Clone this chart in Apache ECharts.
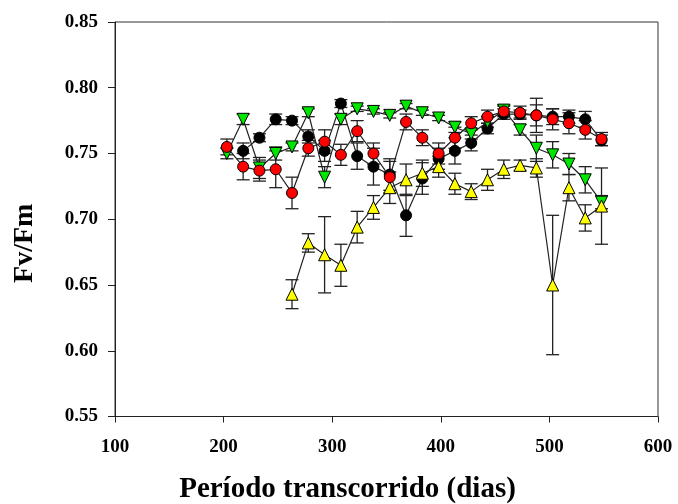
<!DOCTYPE html>
<html>
<head>
<meta charset="utf-8">
<script src="https://cdn.jsdelivr.net/npm/echarts@6/dist/echarts.min.js"></script>
<style>
  html, body { margin: 0; padding: 0; background: #fff; }
  #chart { width: 678px; height: 504px; }
</style>
</head>
<body>
<div id="chart"></div>
<script>
  // dias de medição
  var daysFull = [203, 218, 233, 248, 263, 278, 293, 308, 323, 338, 353, 368, 383, 398, 413, 428, 443, 458, 473, 488, 503, 518, 533, 548];
  var daysBlack = daysFull.slice(1);
  var daysYellow = daysFull.slice(4);

  // Fv/Fm médias
  var blackVals = [0.752, 0.762, 0.776, 0.775, 0.763, 0.752, 0.788, 0.748, 0.740, 0.734, 0.703, 0.731, 0.746, 0.752, 0.758, 0.769, 0.780, 0.780, 0.779, 0.778, 0.778, 0.776, 0.760];
  var redVals = [0.755, 0.740, 0.737, 0.738, 0.720, 0.754, 0.759, 0.749, 0.767, 0.750, 0.732, 0.774, 0.762, 0.750, 0.762, 0.773, 0.778, 0.782, 0.781, 0.779, 0.776, 0.773, 0.768, 0.761];
  var greenVals = [0.750, 0.776, 0.739, 0.750, 0.755, 0.781, 0.732, 0.776, 0.784, 0.782, 0.779, 0.786, 0.781, 0.777, 0.770, 0.765, 0.774, 0.783, 0.768, 0.754, 0.749, 0.742, 0.730, 0.713];
  var yellowVals = [0.643, 0.682, 0.673, 0.665, 0.694, 0.709, 0.724, 0.730, 0.735, 0.740, 0.727, 0.721, 0.730, 0.738, 0.741, 0.739, 0.650, 0.724, 0.701, 0.710];

  // erro padrão
  var blackErr = [0.006, 0.003, 0.004, 0.003, 0.005, 0.008, 0.003, 0.010, 0.014, 0.012, 0.016, 0.012, 0.008, 0.010, 0.006, 0.004, 0.004, 0.003, 0.008, 0.006, 0.005, 0.006, 0.004];
  var redErr = [0.006, 0.010, 0.008, 0.014, 0.012, 0.006, 0.009, 0.008, 0.008, 0.008, 0.012, 0.006, 0.006, 0.008, 0.008, 0.005, 0.005, 0.004, 0.005, 0.013, 0.008, 0.008, 0.007, 0.005];
  var greenErr = [0.004, 0.004, 0.008, 0.005, 0.003, 0.003, 0.008, 0.004, 0.002, 0.002, 0.002, 0.002, 0.002, 0.002, 0.004, 0.004, 0.004, 0.004, 0.004, 0.010, 0.010, 0.008, 0.010, 0.005];
  var yellowErr = [0.011, 0.007, 0.029, 0.016, 0.012, 0.009, 0.012, 0.012, 0.010, 0.008, 0.008, 0.006, 0.008, 0.007, 0.004, 0.007, 0.053, 0.010, 0.010, 0.029];

  var fontFam = 'Liberation Serif';

  function pairs(days, vals) {
    return days.map(function (d, i) { return [d, vals[i]]; });
  }

  function errorSeries(days, vals, errs, z) {
    return {
      type: 'custom',
      z: z,
      silent: true,
      data: days.map(function (d, i) { return [d, vals[i] - errs[i], vals[i] + errs[i]]; }),
      renderItem: function (params, api) {
        var lo = api.coord([api.value(0), api.value(1)]);
        var hi = api.coord([api.value(0), api.value(2)]);
        var w = 6.5;
        var st = { stroke: '#222', lineWidth: 1.3 };
        return {
          type: 'group',
          children: [
            { type: 'line', shape: { x1: lo[0], y1: lo[1], x2: hi[0], y2: hi[1] }, style: st },
            { type: 'line', shape: { x1: lo[0] - w, y1: lo[1], x2: lo[0] + w, y2: lo[1] }, style: st },
            { type: 'line', shape: { x1: hi[0] - w, y1: hi[1], x2: hi[0] + w, y2: hi[1] }, style: st }
          ]
        };
      }
    };
  }

  function lineSeries(name, days, vals, symbol, rotate, size, color, z) {
    return {
      name: name,
      type: 'line',
      z: z,
      data: pairs(days, vals),
      symbol: symbol,
      symbolRotate: rotate,
      symbolSize: size,
      showAllSymbol: true,
      lineStyle: { color: '#222', width: 1.2 },
      itemStyle: { color: color, borderColor: '#000', borderWidth: 1 },
      emphasis: { disabled: true },
      animation: false
    };
  }

  var chart = echarts.init(document.getElementById('chart'));
  var option = {
    animation: false,
    backgroundColor: '#fff',
    grid: {
      left: 115, right: 20, top: 22, bottom: 87.5,
      outerBoundsMode: 'none', containLabel: false,
      show: true, borderColor: '#333', borderWidth: 1
    },
    xAxis: {
      type: 'value',
      min: 100, max: 600, interval: 100,
      name: 'Período transcorrido (dias)',
      nameLocation: 'middle',
      nameGap: 59,
      nameTextStyle: { fontFamily: fontFam, fontWeight: 'bold', fontSize: 29, color: '#000', padding: [0, 78, 0, 0] },
      axisLine: { lineStyle: { color: '#222' } },
      axisTick: { inside: false, length: 6, lineStyle: { color: '#222' } },
      axisLabel: { fontFamily: fontFam, fontWeight: 'bold', fontSize: 19, color: '#000', margin: 21 },
      splitLine: { show: false }
    },
    yAxis: {
      type: 'value',
      min: 0.55, max: 0.85, interval: 0.05,
      name: 'Fv/Fm',
      nameLocation: 'middle',
      nameGap: 76,
      nameTextStyle: { fontFamily: fontFam, fontWeight: 'bold', fontSize: 28, color: '#000', padding: [0, 48, 0, 0] },
      axisLine: { lineStyle: { color: '#222' } },
      axisTick: { inside: false, length: 7, lineStyle: { color: '#222' } },
      axisLabel: {
        fontFamily: fontFam, fontWeight: 'bold', fontSize: 19, color: '#000', margin: 17,
        formatter: function (v) { return v.toFixed(2); }
      },
      splitLine: { show: false }
    },
    series: [
      errorSeries(daysBlack, blackVals, blackErr, 1),
      errorSeries(daysFull, greenVals, greenErr, 1),
      errorSeries(daysYellow, yellowVals, yellowErr, 1),
      errorSeries(daysFull, redVals, redErr, 1),
      lineSeries('preto', daysBlack, blackVals, 'circle', 0, 11, '#000000', 2),
      lineSeries('verde', daysFull, greenVals, 'triangle', 180, 12, '#00e600', 3),
      lineSeries('amarelo', daysYellow, yellowVals, 'triangle', 0, 12, '#ffff00', 4),
      lineSeries('vermelho', daysFull, redVals, 'circle', 0, 11, '#ff0000', 5)
    ]
  };
  chart.setOption(option);
</script>
</body>
</html>
